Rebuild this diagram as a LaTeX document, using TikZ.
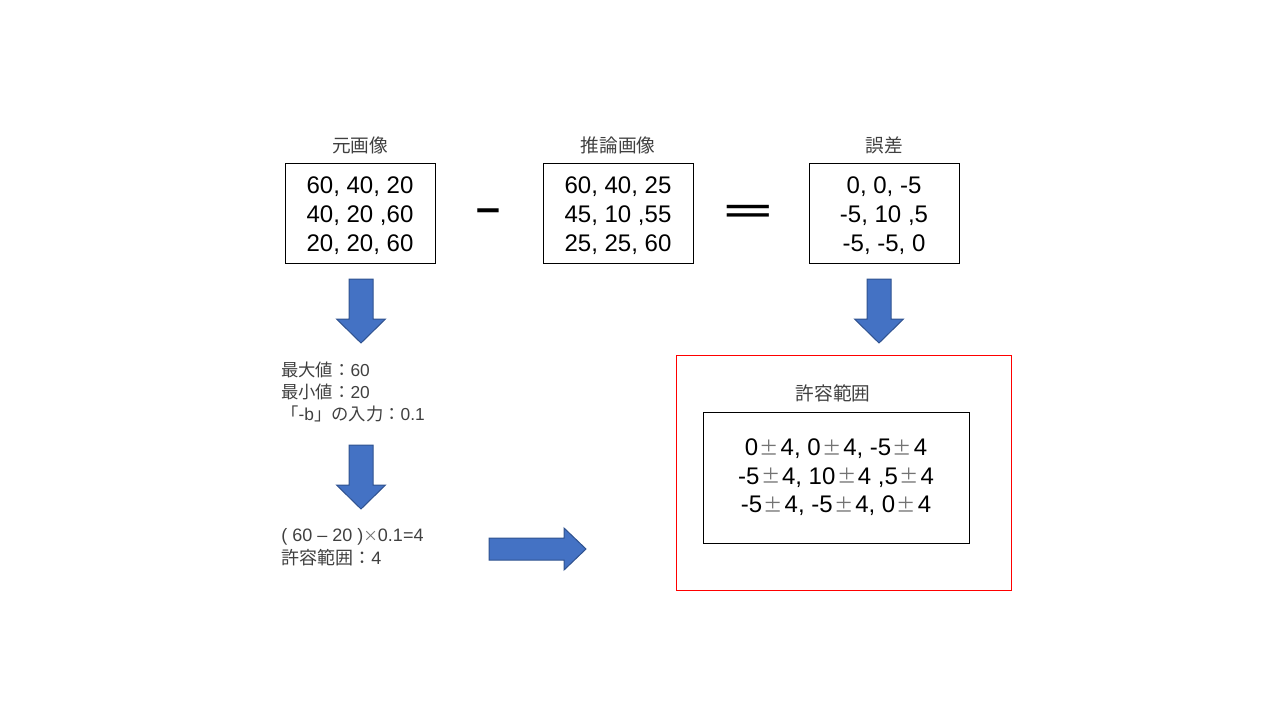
\documentclass[tikz,border=0pt]{standalone}
\usepackage{fontspec}
\usepackage{graphicx}
\setmainfont{Liberation Sans}
\newfontfamily\jp{Noto Sans CJK JP}
\usetikzlibrary{positioning}
\definecolor{arrowblue}{HTML}{4472C4}
\definecolor{arrowedge}{HTML}{2F528F}
\definecolor{textgray}{HTML}{404040}
\newcommand{\pmj}{\hspace{1.2pt}\raisebox{0.5pt}{\jp\fontsize{14.5}{14.5}\selectfont\color{black!55}±}\hspace{1.2pt}}

\begin{document}
\begin{tikzpicture}[x=0.75pt, y=-0.75pt,
    matbox/.style={draw, line width=0.75pt, minimum width=112.5pt, minimum height=74.25pt},
    matval/.style={align=center, inner sep=0pt, font=\fontsize{18}{21.75}\selectfont},
    title/.style={inner sep=0pt, text=textgray, font=\jp\fontsize{14}{16}\selectfont},
    note/.style={inner sep=0pt, anchor=west, align=left, text=textgray},
    opsign/.style={anchor=base, inner sep=0pt, font=\bfseries\fontsize{63}{63}\selectfont},
    blockarrow/.style={fill=arrowblue, draw=arrowedge, line width=0.75pt}]
        \useasboundingbox (0,0) rectangle (1280,720);
        \node[matbox] (orig) at (360,213.5) {};
        \node[matbox] (infer) at (618,213.5) {};
        \node[matbox] (diff) at (884,213.5) {};
        \node[matval] (origv) at ([yshift=-1.5pt]orig.center) {60, 40, 20\\40, 20 ,60\\20, 20, 60};
        \node[matval] (inferv) at ([yshift=-1.5pt]infer.center) {60, 40, 25\\45, 10 ,55\\25, 25, 60};
        \node[matval] (diffv) at ([yshift=-1.5pt]diff.center) {0, 0, -5\\-5, 10 ,5\\-5, -5, 0};
        \node[title, above=7pt of orig] (origt) {元画像};
        \node[title, above=7pt of infer] (infert) {推論画像};
        \node[title, above=7pt of diff] (difft) {誤差};
        \node[opsign] (minus) at (488,219.6) {\scalebox{1}[0.4]{-}};
        \node[opsign] (equal) at (748,222) {\scalebox{1}[0.37]{=}};
        \node[note, font=\fontsize{13}{16.5}\selectfont] (minmax) at (281,392)
          {{\jp 最大値：}60\\{\jp 最小値：}20\\{\jp 「}-b{\jp 」の入力：}0.1};
        \node[note, font=\fontsize{13.5}{17.25}\selectfont] (calc) at (281,547.5)
          {( 60 -- 20 ){\jp\fontsize{11}{11}\selectfont\color{black!55}×}0.1=4\\{\jp 許容範囲：}4};
        \node[draw=red, line width=0.75pt, minimum width=251.25pt, minimum height=176.25pt] (tolbox) at (843.5,472.5) {};
        \node[title] (tolt) at (833,393) {許容範囲};
        \node[draw, line width=0.75pt, minimum width=199.5pt, minimum height=98.25pt,
          align=center, font=\fontsize{18}{21.4}\selectfont] (tolrange) at (836,477.5)
          {0\pmj 4, 0\pmj 4, -5\pmj 4\\-5\pmj 4, 10\pmj 4 ,5\pmj 4\\-5\pmj 4, -5\pmj 4, 0\pmj 4};
        \foreach \cx/\ty in {361/279, 361/445, 879/279}
          \draw[blockarrow] (\cx-12,\ty) -- (\cx+12,\ty) -- (\cx+12,\ty+40) -- (\cx+24.5,\ty+40)
            -- (\cx,\ty+64) -- (\cx-24.5,\ty+40) -- (\cx-12,\ty+40) -- cycle;
        \draw[blockarrow] (489,538) -- (564,538) -- (564,528) -- (586,549) -- (564,570)
          -- (564,560) -- (489,560) -- cycle;
\end{tikzpicture}
\end{document}
